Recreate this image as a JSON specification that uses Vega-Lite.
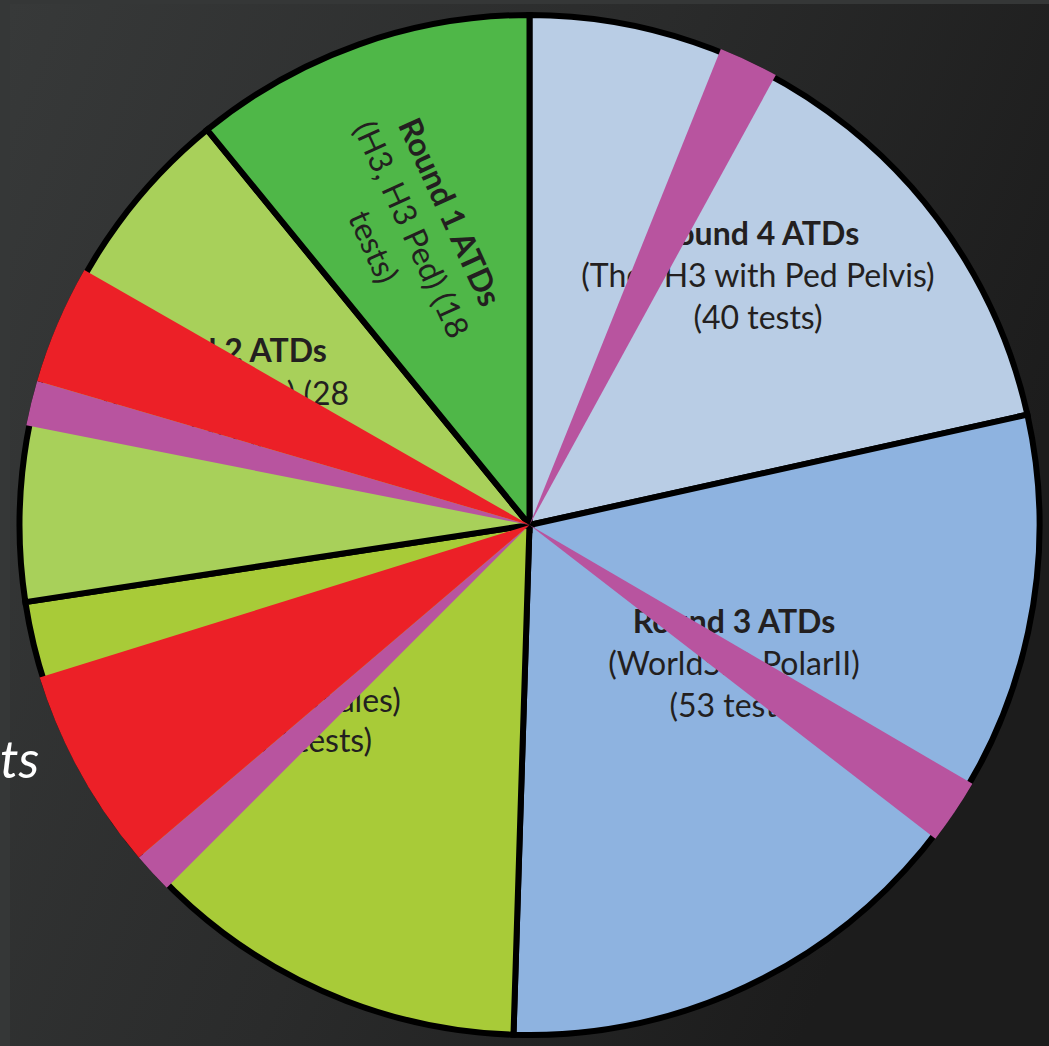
{
  "$schema": "https://vega.github.io/schema/vega-lite/v6.json",
  "autosize": {"type": "fit", "contains": "padding"},
  "width": 1049,
  "height": 1046,
  "padding": {"left": 0, "top": 4, "right": 0, "bottom": 0},
  "background": "#353737",
  "config": {"view": {"stroke": null}, "font": "Lato"},
  "title": {"text": "ts", "orient": "bottom", "anchor": "start", "frame": "group", "offset": -269, "dx": -10, "baseline": "alphabetic", "font": "Lato", "fontSize": 52, "fontStyle": "italic", "fontWeight": "normal", "color": "#ffffff"},
  "datasets": {
    "base": [
      {"k": 1, "seg": "Round 4", "deg": 77.5, "title": "Round 4 ATDs", "detail": ["(Thor H3 with Ped Pelvis)", "(40 tests)"]},
      {"k": 2, "seg": "Round 3", "deg": 104.3, "title": "Round 3 ATDs", "detail": ["(WorldSID PolarII)", "(53 tests)"]},
      {"k": 3, "seg": "Round 2 Females", "deg": 79.5, "title": "", "detail": ["(5th Females)", "(42 tests)"]},
      {"k": 4, "seg": "Round 2", "deg": 59.5, "title": "Round 2 ATDs", "detail": ["(H3 5th Male) (28", "tests)"]},
      {"k": 5, "seg": "Round 1", "deg": 39.2, "title": "Round 1 ATDs", "detail": ["(H3, H3 Ped) (18", "tests)"]}
    ],
    "overlay": [
      {"k": 1, "kind": "none", "deg": 21.9},
      {"k": 2, "kind": "magenta", "deg": 6.8},
      {"k": 3, "kind": "none", "deg": 91.6},
      {"k": 4, "kind": "magenta", "deg": 7.4},
      {"k": 5, "kind": "none", "deg": 97.3},
      {"k": 6, "kind": "magenta", "deg": 4.6},
      {"k": 7, "kind": "red", "deg": 23.1},
      {"k": 8, "kind": "none", "deg": 28.5},
      {"k": 9, "kind": "magenta", "deg": 5.1},
      {"k": 10, "kind": "red", "deg": 13.5},
      {"k": 11, "kind": "none", "deg": 60.2}
    ]
  },
  "layer": [
    {
      "data": {"values": [{}]},
      "mark": {"type": "rect", "color": {"gradient": "linear", "x1": 0, "y1": 0, "x2": 1, "y2": 0.4, "stops": [{"offset": 0, "color": "#373939"}, {"offset": 0.55, "color": "#2a2b2b"}, {"offset": 1, "color": "#1c1c1c"}]}},
      "encoding": {}
    },
    {
      "data": {"name": "base"},
      "mark": {"type": "arc", "radius": 510, "stroke": "#000000", "strokeWidth": 6},
      "encoding": {
        "theta": {"field": "deg", "type": "quantitative", "stack": true},
        "order": {"field": "k", "type": "quantitative"},
        "color": {"field": "seg", "type": "nominal", "legend": null, "scale": {"domain": ["Round 4", "Round 3", "Round 2 Females", "Round 2", "Round 1"], "range": ["#B9CDE5", "#8EB3E0", "#A8CB38", "#A8D05A", "#4FB748"]}}
      }
    },
    {
      "data": {"name": "base"},
      "mark": {"type": "text", "radius": 329.9, "thetaOffset": 0.0887, "fontSize": 32, "fontWeight": "bold", "fill": "#231F20", "align": "center", "baseline": "alphabetic", "dy": -42},
      "encoding": {"theta": {"field": "deg", "type": "quantitative", "stack": true}, "order": {"field": "k", "type": "quantitative"}, "text": {"condition": {"test": "datum.seg === 'Round 4'", "field": "title"}, "value": ""}}
    },
    {
      "data": {"name": "base"},
      "mark": {"type": "text", "radius": 329.9, "thetaOffset": 0.0887, "fontSize": 32, "fontWeight": "normal", "fill": "#231F20", "align": "center", "baseline": "alphabetic", "lineHeight": 42},
      "encoding": {"theta": {"field": "deg", "type": "quantitative", "stack": true}, "order": {"field": "k", "type": "quantitative"}, "text": {"condition": {"test": "datum.seg === 'Round 4'", "field": "detail"}, "value": ""}}
    },
    {
      "data": {"name": "base"},
      "mark": {"type": "text", "radius": 253.6, "thetaOffset": -0.0592, "fontSize": 32, "fontWeight": "bold", "fill": "#231F20", "align": "center", "baseline": "alphabetic", "dy": -42},
      "encoding": {"theta": {"field": "deg", "type": "quantitative", "stack": true}, "order": {"field": "k", "type": "quantitative"}, "text": {"condition": {"test": "datum.seg === 'Round 3'", "field": "title"}, "value": ""}}
    },
    {
      "data": {"name": "base"},
      "mark": {"type": "text", "radius": 253.6, "thetaOffset": -0.0592, "fontSize": 32, "fontWeight": "normal", "fill": "#231F20", "align": "center", "baseline": "alphabetic", "lineHeight": 42},
      "encoding": {"theta": {"field": "deg", "type": "quantitative", "stack": true}, "order": {"field": "k", "type": "quantitative"}, "text": {"condition": {"test": "datum.seg === 'Round 3'", "field": "detail"}, "value": ""}}
    },
    {
      "data": {"name": "base"},
      "mark": {"type": "text", "radius": 290.3, "thetaOffset": 0.1456, "fontSize": 32, "fontWeight": "normal", "fill": "#231F20", "align": "center", "baseline": "alphabetic", "lineHeight": 40},
      "encoding": {"theta": {"field": "deg", "type": "quantitative", "stack": true}, "order": {"field": "k", "type": "quantitative"}, "text": {"condition": {"test": "datum.seg === 'Round 2 Females'", "field": "detail"}, "value": ""}}
    },
    {
      "data": {"name": "base"},
      "mark": {"type": "text", "radius": 326.8, "thetaOffset": 0.0086, "fontSize": 32, "fontWeight": "bold", "fill": "#231F20", "align": "center", "baseline": "alphabetic", "dy": -43},
      "encoding": {"theta": {"field": "deg", "type": "quantitative", "stack": true}, "order": {"field": "k", "type": "quantitative"}, "text": {"condition": {"test": "datum.seg === 'Round 2'", "field": "title"}, "value": ""}}
    },
    {
      "data": {"name": "base"},
      "mark": {"type": "text", "radius": 326.8, "thetaOffset": 0.0086, "fontSize": 32, "fontWeight": "normal", "fill": "#231F20", "align": "center", "baseline": "alphabetic", "lineHeight": 43},
      "encoding": {"theta": {"field": "deg", "type": "quantitative", "stack": true}, "order": {"field": "k", "type": "quantitative"}, "text": {"condition": {"test": "datum.seg === 'Round 2'", "field": "detail"}, "value": ""}}
    },
    {
      "data": {"name": "base"},
      "mark": {"type": "text", "radius": 317.8, "thetaOffset": -0.073, "angle": 65.5, "fontSize": 32, "fontWeight": "bold", "fill": "#231F20", "align": "center", "baseline": "alphabetic", "dy": -42},
      "encoding": {"theta": {"field": "deg", "type": "quantitative", "stack": true}, "order": {"field": "k", "type": "quantitative"}, "text": {"condition": {"test": "datum.seg === 'Round 1'", "field": "title"}, "value": ""}}
    },
    {
      "data": {"name": "base"},
      "mark": {"type": "text", "radius": 317.8, "thetaOffset": -0.073, "angle": 65.5, "fontSize": 32, "fontWeight": "normal", "fill": "#231F20", "align": "center", "baseline": "alphabetic", "lineHeight": 42},
      "encoding": {"theta": {"field": "deg", "type": "quantitative", "stack": true}, "order": {"field": "k", "type": "quantitative"}, "text": {"condition": {"test": "datum.seg === 'Round 1'", "field": "detail"}, "value": ""}}
    },
    {
      "data": {"name": "overlay"},
      "mark": {"type": "arc", "radius": 513, "strokeWidth": 0},
      "encoding": {
        "theta": {"field": "deg", "type": "quantitative", "stack": true},
        "order": {"field": "k", "type": "quantitative"},
        "color": {"field": "kind", "type": "nominal", "legend": null, "scale": {"domain": ["none", "magenta", "red"], "range": ["transparent", "#B8549F", "#EC2027"]}}
      }
    }
  ],
  "resolve": {"scale": {"color": "independent"}}
}
